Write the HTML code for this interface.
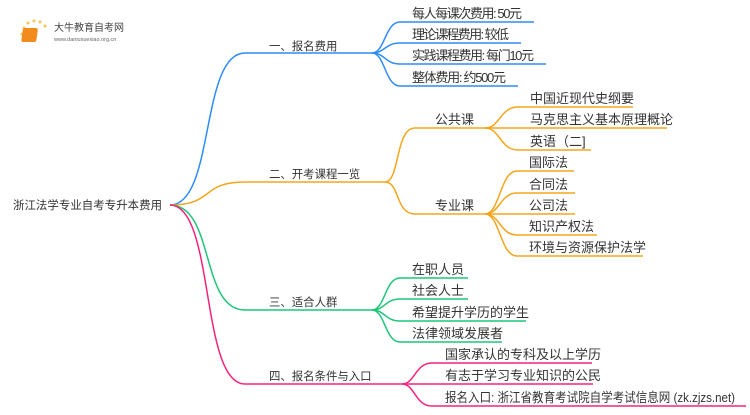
<!DOCTYPE html>
<html><head><meta charset="utf-8"><style>
body{margin:0;width:750px;height:410px;background:#fff;overflow:hidden;font-family:"Liberation Sans","Noto Sans CJK SC",sans-serif;}
svg text{font-family:"Liberation Sans","Noto Sans CJK SC",sans-serif;fill:#333;font-size:13px;}
.b{font-size:11.4px;}
</style></head><body>
<svg width="750" height="410" viewBox="0 0 750 410" xmlns="http://www.w3.org/2000/svg">
<g>
<circle cx="24" cy="28" r="1.5" fill="#f7c35a"/><circle cx="28" cy="23" r="1.5" fill="#f7c35a"/><circle cx="34" cy="21" r="1.5" fill="#f7c35a"/><circle cx="40" cy="22" r="1.5" fill="#f7c35a"/><circle cx="45" cy="26" r="1.5" fill="#f7c35a"/><circle cx="22" cy="34" r="1.5" fill="#f7c35a"/>
<rect x="27" y="28" width="15" height="14" rx="2" fill="#f28a1c" transform="skewX(-8)"/>
<text x="54" y="31" style="font-size:10px;fill:#444">大牛教育自考网</text>
<text x="54" y="41" style="font-size:5.5px;fill:#666">www.daniuxuexiao.org.cn</text>
</g>
<text x="13" y="209" class="b" textLength="149">浙江法学专业自考专升本费用</text>
<g fill="none" stroke-width="1.5">
<path d="M170 205 C215 205 200 53 245 53 L372 53" stroke="#2f8cf5"/>
<path d="M170 205 C215 205 200 182 245 182 L385 182" stroke="#f5a51c"/>
<path d="M170 205 C215 205 200 310 245 310 L372 310" stroke="#1fc67a"/>
<path d="M170 205 C215 205 200 384 245 384 L402 384" stroke="#f5247a"/>
<g stroke="#2f8cf5">
<path d="M372 53 C385 53 385 22 400 22 L534 22"/><path d="M372 53 C385 53 385 43 400 43 L521 43"/>
<path d="M372 53 C385 53 385 64 400 64 L546 64"/><path d="M372 53 C385 53 385 86 400 86 L518 86"/></g>
<g stroke="#f5a51c">
<path d="M385 182 C400 182 395 128 415 128 L485 128"/><path d="M385 182 C400 182 395 214 415 214 L485 214"/>
<path d="M485 128 C500 128 500 107 518 107 L633 107"/><path d="M485 128 L667 128"/><path d="M485 128 C500 128 500 150 518 150 L591 150"/>
<path d="M485 214 C500 214 500 171 517 171 L574 171"/><path d="M485 214 C500 214 500 193 517 193 L575 193"/><path d="M485 214 L575 214"/>
<path d="M485 214 C500 214 500 235 517 235 L597 235"/><path d="M485 214 C500 214 500 256 517 256 L643 256"/></g>
<g stroke="#1fc67a">
<path d="M372 310 C385 310 385 278 400 278 L468 278"/><path d="M372 310 C385 310 385 299 400 299 L468 299"/>
<path d="M372 310 C385 310 385 321 400 321 L526 321"/><path d="M372 310 C385 310 385 342 400 342 L502 342"/></g>
<g stroke="#f5247a">
<path d="M402 384 C415 384 415 363 432 363 L592 363"/><path d="M402 384 L593 384"/>
<path d="M402 384 C415 384 415 406 432 406 L746 406"/></g>
</g>
<text x="269" y="50" class="b">一、报名费用</text>
<text x="269" y="178" class="b">二、开考课程一览</text>
<text x="269" y="306" class="b">三、适合人群</text>
<text x="269" y="380" class="b">四、报名条件与入口</text>
<text x="412" y="18" textLength="110">每人每课次费用: 50元</text>
<text x="412" y="39" textLength="97">理论课程费用: 较低</text>
<text x="412" y="60" textLength="122">实践课程费用: 每门10元</text>
<text x="412" y="82" textLength="94">整体费用: 约500元</text>
<text x="435" y="124">公共课</text>
<text x="435" y="210">专业课</text>
<text x="530" y="103">中国近现代史纲要</text>
<text x="530" y="124">马克思主义基本原理概论</text>
<text x="530" y="146">英语（二]</text>
<text x="529" y="167">国际法</text>
<text x="529" y="189">合同法</text>
<text x="529" y="210">公司法</text>
<text x="529" y="231">知识产权法</text>
<text x="529" y="252">环境与资源保护法学</text>
<text x="412" y="274">在职人员</text>
<text x="412" y="295">社会人士</text>
<text x="412" y="317">希望提升学历的学生</text>
<text x="412" y="338">法律领域发展者</text>
<text x="445" y="359">国家承认的专科及以上学历</text>
<text x="445" y="380">有志于学习专业知识的公民</text>
<text x="445" y="402" textLength="290" lengthAdjust="spacingAndGlyphs">报名入口: 浙江省教育考试院自学考试信息网 (zk.zjzs.net)</text>
</svg>
</body></html>
